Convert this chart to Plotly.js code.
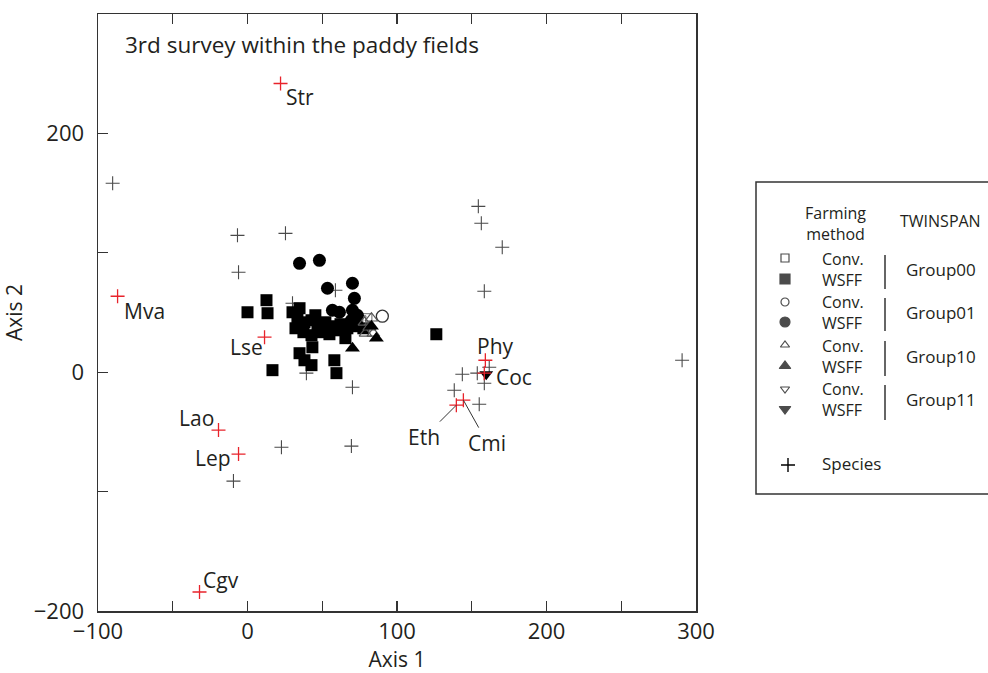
<!DOCTYPE html>
<html><head><meta charset="utf-8">
<script src="https://cdn.plot.ly/plotly-3.0.1.min.js"></script>
<style>body{margin:0;background:#fff}</style>
</head><body><div id="chart" style="width:988px;height:673px"></div>
<script>
// ---- DATA ----
const g00WsffX = [0.0, 12.7, 13.4, 16.7, 34.8, 38.1, 43.4, 42.8, 58.1, 59.5, 65.5, 126.3,
  30.1, 33.4, 38.1, 42.8, 46.8, 52.1, 56.8, 62.2, 32.1, 37.4, 42.8, 49.5, 54.8, 59.5, 66.8, 72.2, 77.5, 34.8, 45.4];
const g00WsffY = [50.2, 60.3, 49.4, 1.7, 15.9, 10.0, 20.9, 5.9, 10.0, -0.8, 28.5, 31.8,
  50.2, 45.2, 41.8, 43.5, 39.3, 41.8, 38.5, 40.2, 36.8, 33.5, 31.0, 33.5, 31.8, 35.1, 36.8, 38.5, 36.8, 53.6, 47.7];
const g00ConvX = [80.2, 76.2];
const g00ConvY = [45.2, 43.5];
const g01WsffX = [34.8, 48.1, 53.5, 70.2, 71.5, 56.8, 61.5, 70.2, 73.5, 69.5, 73.5];
const g01WsffY = [91.2, 93.7, 70.3, 74.5, 61.9, 51.9, 50.2, 51.9, 47.7, 43.5, 39.3];
const g01ConvX = [90.2];
const g01ConvY = [46.9];
const g10WsffX = [70.2, 86.2, 82.9];
const g10WsffY = [20.1, 28.5, 38.5];
const g10ConvX = [78.2, 81.5, 82.9, 78.9, 84.2];
const g10ConvY = [41.8, 37.7, 45.2, 32.6, 32.6];
const g11WsffX = [159.7];
const g11WsffY = [-1.7];
const speciesX = [-90.2, -6.7, 25.4, -6.0, 58.8, 30.1, 39.4, 70.2, 22.7, 69.5, -9.4,
  154.4, 156.4, 170.4, 158.4, 290.7, 143.7, 138.3, 155.0, 153.7, 161.7, 158.4];
const speciesY = [158.2, 114.6, 116.3, 83.7, 68.6, 57.7, -0.8, -12.6, -62.8, -61.9, -91.2,
  138.9, 124.7, 104.6, 67.8, 10.0, -1.7, -15.1, -26.8, -0.8, 4.2, -9.2];
const namedSpecies = ['Str', 'Mva', 'Lse', 'Lao', 'Lep', 'Cgv', 'Phy', 'Coc', 'Eth', 'Cmi'];
const namedX = [22.1, -86.9, 11.4, -19.4, -6.0, -32.1, 159.1, 158.4, 139.7, 144.4];
const namedY = [241.8, 63.6, 29.3, -48.5, -68.6, -184.1, 10.0, -0.8, -27.6, -23.4];
const xTickVals = [-100, -50, 0, 50, 100, 150, 200, 250, 300];
const xTickText = ['\u2212100', '', '0', '', '100', '', '200', '', '300'];
const yTickVals = [-200, -100, 0, 100, 200];
const yTickText = ['\u2212200', '', '0', '', '200'];
const chartTitle = '3rd survey within the paddy fields';
const groupNames = ['Group00', 'Group01', 'Group10', 'Group11'];

// ---- STYLE ----
const FONT = 'Open Sans, sans-serif';
const TXT = '#231f20';
const RED = '#e8232b';
const PLUS_GRAY = '#4a4a4a';

// label placement (pixel offsets from the point)
const labelStyle = {
  Str: {xanchor: 'left', xshift: 3, yshift: -14},
  Mva: {xanchor: 'left', xshift: 4, yshift: -15},
  Lse: {xanchor: 'right', xshift: 0, yshift: -10},
  Lao: {xanchor: 'right', xshift: -3, yshift: 12},
  Lep: {xanchor: 'right', xshift: -6, yshift: -4},
  Cgv: {xanchor: 'left', xshift: 1, yshift: 12},
  Phy: {xanchor: 'left', xshift: -10, yshift: 14},
  Coc: {xanchor: 'left', xshift: 10, yshift: -4},
  Eth: {arrow: true, ax: -32, ay: 32},
  Cmi: {arrow: true, ax: 24, ay: 43}
};

function pts(x, y, symbol, size, color, lineColor, lineWidth) {
  return {x: x, y: y, type: 'scatter', mode: 'markers', xaxis: 'x', yaxis: 'y', hoverinfo: 'skip',
    marker: {symbol: symbol, size: size, color: color, line: {color: lineColor, width: lineWidth}}};
}

const traces = [
  pts(speciesX, speciesY, 'cross-thin', 10, PLUS_GRAY, PLUS_GRAY, 1.1),
  pts(g00WsffX, g00WsffY, 'square', 12, '#000', '#000', 0),
  pts(g00ConvX, g00ConvY, 'square-open', 9, '#666', '#666', 1),
  pts(g01WsffX, g01WsffY, 'circle', 13, '#000', '#000', 0),
  pts(g01ConvX, g01ConvY, 'circle-open', 12, '#333', '#333', 1.3),
  pts(g10ConvX, g10ConvY, 'triangle-up-open', 11, '#555', '#555', 1.2),
  pts(g10WsffX, g10WsffY, 'triangle-up', 13, '#000', '#000', 0),
  pts(g11WsffX, g11WsffY, 'triangle-down', 12, '#000', '#000', 0),
  pts(namedX, namedY, 'cross-thin', 10, RED, RED, 1.3)
];

// ---- legend (pixel-space overlay axes) ----
const legRows = [
  {sym: 'square-open', y: 258, size: 8}, {sym: 'square', y: 279, size: 10},
  {sym: 'circle-open', y: 302, size: 8}, {sym: 'circle', y: 322, size: 10},
  {sym: 'triangle-up-open', y: 345, size: 8}, {sym: 'triangle-up', y: 366, size: 10},
  {sym: 'triangle-down-open', y: 389, size: 8}, {sym: 'triangle-down', y: 409, size: 10}
];
traces.push({
  x: legRows.map(() => 785), y: legRows.map(r => r.y), xaxis: 'x2', yaxis: 'y2',
  type: 'scatter', mode: 'markers', hoverinfo: 'skip',
  marker: {symbol: legRows.map(r => r.sym), size: legRows.map(r => r.size), color: '#000', line: {color: '#000', width: 1.2}}
});
traces.push({
  x: [788], y: [465], xaxis: 'x2', yaxis: 'y2', type: 'scatter', mode: 'markers', hoverinfo: 'skip',
  marker: {symbol: 'cross-thin', size: 10, color: '#000', line: {color: '#000', width: 1.4}}
});

const annotations = [];
annotations.push({xref: 'x', yref: 'y', x: -83.5, y: 274.5, text: chartTitle, showarrow: false,
  xanchor: 'left', yanchor: 'middle', font: {family: FONT, size: 22.5, color: TXT}});
namedSpecies.forEach((n, i) => {
  const s = labelStyle[n];
  if (s.arrow) {
    annotations.push({xref: 'x', yref: 'y', x: namedX[i], y: namedY[i], text: n, showarrow: true,
      arrowhead: 0, arrowwidth: 1, arrowcolor: '#333', ax: s.ax, ay: s.ay, standoff: 0,
      font: {family: FONT, size: 21, color: TXT}});
  } else {
    annotations.push({xref: 'x', yref: 'y', x: namedX[i], y: namedY[i], text: n, showarrow: false,
      xanchor: s.xanchor, yanchor: 'middle', xshift: s.xshift, yshift: s.yshift,
      font: {family: FONT, size: 21, color: TXT}});
  }
});
function legText(text, x, y, anchor, size, align) {
  annotations.push({xref: 'x2', yref: 'y2', x: x, y: y, text: text, showarrow: false,
    xanchor: anchor, yanchor: 'middle', align: align || anchor,
    font: {family: FONT, size: size, color: TXT}});
}
legText('Farming<br>method', 835, 223, 'center', 16);
legText('TWINSPAN', 940, 221, 'center', 16);
const pairY = [269, 312, 356, 399];
for (let k = 0; k < 4; k++) {
  legText('Conv.<br>WSFF', 820, pairY[k], 'left', 16);
  legText(groupNames[k], 904, pairY[k], 'left', 17);
}
legText('Species', 820, 463, 'left', 17);

const shapes = [
  {type: 'rect', xref: 'x2', yref: 'y2', x0: 756, x1: 1000, y0: 182, y1: 494, line: {color: '#333', width: 1.5}}
];
const bars = [[255, 289], [298, 331], [341, 376], [385, 420]];
bars.forEach(b => shapes.push({type: 'line', xref: 'x2', yref: 'y2', x0: 885, x1: 885, y0: b[0], y1: b[1], line: {color: '#333', width: 1.5}}));

const axisFont = {family: FONT, size: 22, color: TXT};
const layout = {
  width: 988, height: 673,
  margin: {l: 98, r: 0, t: 14, b: 62, pad: 0},
  paper_bgcolor: '#fff', plot_bgcolor: 'rgba(0,0,0,0)',
  showlegend: false,
  xaxis: {domain: [0, 598 / 890], range: [-100, 300], tickvals: xTickVals, ticktext: xTickText,
    ticks: 'inside', ticklen: 10, tickwidth: 1.3, tickcolor: '#333', showline: true, linecolor: '#333', linewidth: 1.5,
    mirror: 'ticks', showgrid: false, zeroline: false, tickfont: axisFont,
    title: {text: 'Axis 1', font: {family: FONT, size: 21, color: TXT}, standoff: 4}},
  yaxis: {domain: [0, 1], range: [-200, 300], tickvals: yTickVals, ticktext: yTickText,
    ticks: 'inside', ticklen: 10, tickwidth: 1.3, tickcolor: '#333', showline: true, linecolor: '#333', linewidth: 1.5,
    mirror: true, showgrid: false, zeroline: false, tickfont: axisFont, ticklabelstandoff: 8,
    title: {text: 'Axis 2', font: {family: FONT, size: 21, color: TXT}, standoff: 10}},
  xaxis2: {domain: [0, 1], range: [98, 988], visible: false, anchor: 'y2', fixedrange: true},
  yaxis2: {domain: [0, 1], range: [611, 14], visible: false, anchor: 'x2', fixedrange: true},
  annotations: annotations,
  shapes: shapes
};
Plotly.newPlot('chart', traces, layout, {displayModeBar: false, staticPlot: true});
</script></body></html>
